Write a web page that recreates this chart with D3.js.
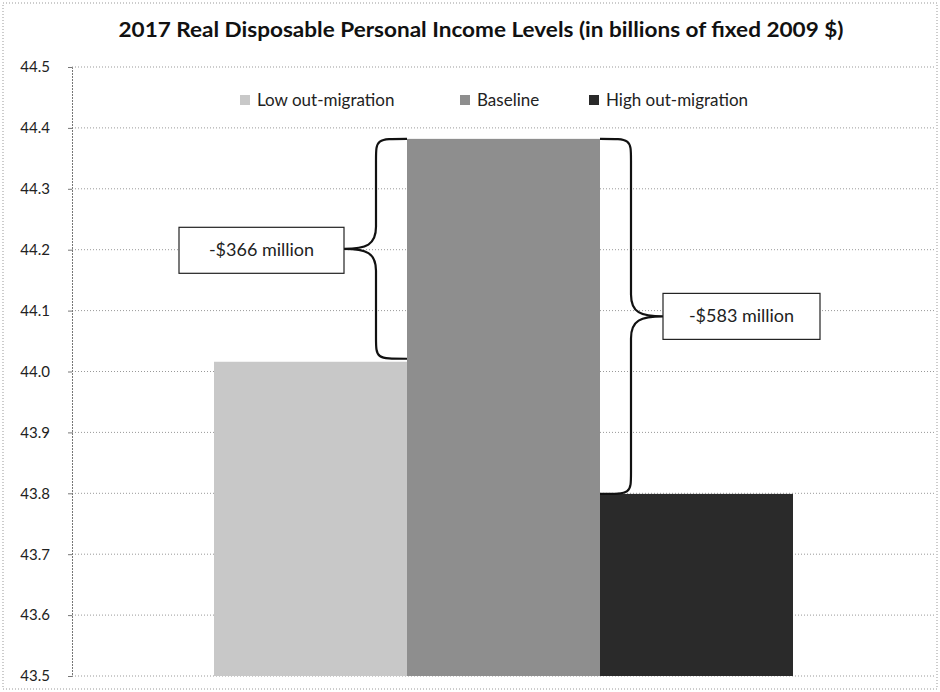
<!DOCTYPE html>
<html><head><meta charset="utf-8">
<script src="https://cdn.jsdelivr.net/npm/d3@7"></script>
<style>body{margin:0;background:#fff}svg{display:block}</style>
</head><body>
<svg id="c" width="940" height="692"></svg>
<script>
const categories = ["Low out-migration", "Baseline", "High out-migration"];
const values = [44.016, 44.382, 43.799];
const colors = ["#c8c8c8", "#8e8e8e", "#2a2a2a"];
const yTicks = [43.5, 43.6, 43.7, 43.8, 43.9, 44.0, 44.1, 44.2, 44.3, 44.4, 44.5];
const title = "2017 Real Disposable Personal Income Levels (in billions of fixed 2009 $)";
const annotations = [
  {from: 1, to: 0, label: "-$366 million", side: "left"},
  {from: 1, to: 2, label: "-$583 million", side: "right"}
];

const svg = d3.select("#c");
const font = "Lato, 'Open Sans', sans-serif";
const m = {left: 72, right: 935, top: 67, bottom: 676};

// outer border
svg.append("rect").attr("x", 3).attr("y", 3).attr("width", 934).attr("height", 686)
  .attr("fill", "none").attr("stroke", "#999").attr("stroke-dasharray", "1,2");

const y = d3.scaleLinear().domain([43.5, 44.5]).range([m.bottom, m.top]);
const x = d3.scaleBand().domain(categories).range([214, 793]).padding(0);

// gridlines
svg.append("g").selectAll("line").data(yTicks).join("line")
  .attr("x1", m.left).attr("x2", m.right)
  .attr("y1", d => y(d)).attr("y2", d => y(d))
  .attr("stroke", "#999").attr("stroke-width", 1).attr("stroke-dasharray", "1,2");

// y axis
const ax = svg.append("g").attr("transform", `translate(${m.left},0)`)
  .call(d3.axisLeft(y).tickValues(yTicks).tickFormat(d3.format(".1f")).tickSize(4));
ax.select(".domain").attr("stroke", "#777").attr("stroke-dasharray", "2,1");
ax.selectAll(".tick line").attr("stroke", "#777");
ax.selectAll("text").attr("x", -22).attr("font-family", font).attr("font-size", 15).attr("fill", "#222");

// bars
svg.append("g").selectAll("rect").data(values).join("rect")
  .attr("x", (d, i) => x(categories[i]))
  .attr("width", x.bandwidth())
  .attr("y", d => y(d))
  .attr("height", d => y(43.5) - y(d))
  .attr("fill", (d, i) => colors[i]);

// title
svg.append("text").attr("x", 481).attr("y", 37).attr("text-anchor", "middle")
  .attr("font-family", font).attr("font-weight", "bold").attr("font-size", 21)
  .attr("fill", "#111").attr("textLength", 725).attr("lengthAdjust", "spacingAndGlyphs").text(title);

// legend
const legX = [240, 460, 589];
const lg = svg.append("g");
categories.forEach((c, i) => {
  lg.append("rect").attr("x", legX[i]).attr("y", 95).attr("width", 10).attr("height", 10).attr("fill", colors[i]);
  lg.append("text").attr("x", legX[i] + 17).attr("y", 106).attr("font-family", font)
    .attr("font-size", 17).attr("fill", "#222").text(c);
});

// braces
function bracePath(xEdge, yTop, yBot, dir) {
  const w = 31 * dir, t = 32 * dir;
  const xm = xEdge + w, xt = xm + t;
  const ymid = (yTop + yBot) / 2;
  const r = 22;
  return `M${xEdge},${yTop} C${xm},${yTop} ${xm},${yTop} ${xm},${yTop + r} L${xm},${ymid - r}` +
    ` C${xm},${ymid - 4} ${xm + t * 0.3},${ymid} ${xt},${ymid} C${xm + t * 0.3},${ymid} ${xm},${ymid + 4} ${xm},${ymid + r}` +
    ` L${xm},${yBot - r} C${xm},${yBot} ${xm},${yBot} ${xEdge},${yBot}`;
}
annotations.forEach(a => {
  const yTop = y(values[a.from]), yBot = y(values[a.to]);
  const dir = a.side === "left" ? -1 : 1;
  const xEdge = a.side === "left" ? x(categories[1]) : x(categories[1]) + x.bandwidth();
  svg.append("path").attr("d", bracePath(xEdge, yTop, a.side === "left" ? yBot - 3 : yBot, dir))
    .attr("fill", "none").attr("stroke", "#111").attr("stroke-width", 2.2);
  const ymid = (yTop + yBot) / 2;
  const tipX = xEdge + dir * 63;
  const bw = a.side === "left" ? 165 : 157, bh = 46;
  const bx = a.side === "left" ? tipX - bw : tipX;
  svg.append("rect").attr("x", bx).attr("y", ymid - bh / 2).attr("width", bw).attr("height", bh)
    .attr("fill", "#fff").attr("stroke", "#222").attr("stroke-width", 1.2);
  svg.append("text").attr("x", bx + bw / 2).attr("y", ymid + 6).attr("text-anchor", "middle")
    .attr("font-family", font).attr("font-size", 18).attr("fill", "#222").text(a.label);
});
</script>
</body></html>
